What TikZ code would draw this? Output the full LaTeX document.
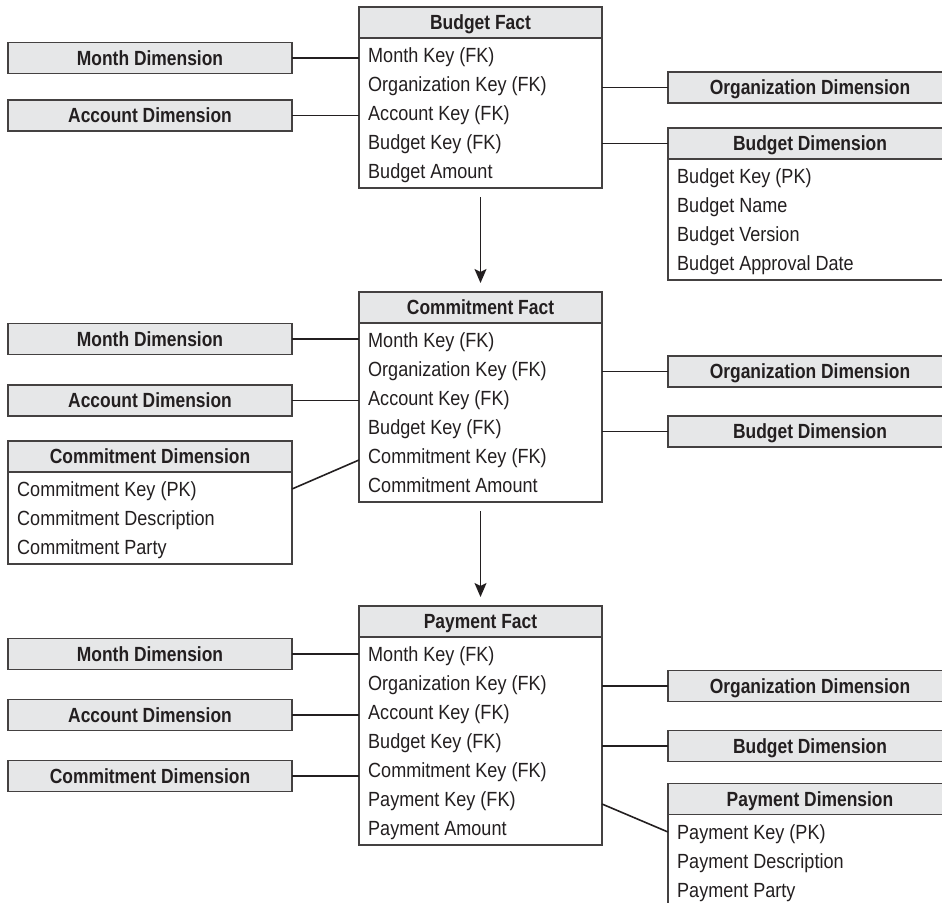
\documentclass[tikz,border=0pt]{standalone}
\usepackage{fontspec}
\setmainfont[FakeStretch=0.88, BoldFeatures={FakeStretch=0.85}]{Liberation Sans}
\usepackage{tikz}
\usetikzlibrary{positioning, arrows.meta, calc}
\definecolor{hdrfill}{RGB}{230,231,232}
\definecolor{ink}{RGB}{35,31,32}
\tikzset{
  hdr/.style={rectangle, draw=ink!85, fill=hdrfill, line width=1.5pt, outer sep=0pt, inner sep=0pt, minimum height=31pt, text height=14.5pt, text depth=0pt, text=ink, font=\fontsize{20.5}{24}\selectfont\bfseries},
  facthdr/.style={hdr, minimum width=243pt},
  dimbox/.style={hdr, minimum width=284pt},
  body/.style={rectangle, draw=ink!85, fill=white, line width=1.5pt, outer sep=0pt, inner sep=0pt, below=0pt of #1},
  row/.style={anchor=west, inner sep=0pt, text height=14.5pt, text depth=0pt, text=ink, font=\fontsize{20.5}{24}\selectfont},
  link/.style={draw=ink, line width=1.6pt},
  flow/.style={link, -{Stealth[length=14pt, width=12pt, inset=3pt]}, shorten <=9pt, shorten >=9pt}
}

\begin{document}
\begin{tikzpicture}[x=1pt, y=-1pt]
    \useasboundingbox (0,0) rectangle (942,902);

    % ==========================================
    % 1. Budget Fact
    % ==========================================
    \node[facthdr] (bf) at (480.5,22.5) {Budget Fact};
    \node[body=bf, minimum width=243pt, minimum height=150pt] (bfb) {};
    \foreach \i/\t in {1/Month Key (FK), 2/Organization Key (FK), 3/Account Key (FK), 4/Budget Key (FK), 5/Budget Amount}
        \node[row] (bf\i) at (368,{26+29*\i}) {\t};

    % Dimensiones a la izquierda
    \node[dimbox] (bmd) at (150,58) {Month Dimension};
    \node[dimbox] (bad) at (150,115.5) {Account Dimension};

    % Dimensiones a la derecha
    \node[dimbox] (bod) at (810,87.5) {Organization Dimension};
    \node[dimbox] (bbd) at (810,143.5) {Budget Dimension};
    \node[body=bbd, minimum width=284pt, minimum height=121pt] (bbdb) {};
    \foreach \i/\t in {1/Budget Key (PK), 2/Budget Name, 3/Budget Version, 4/Budget Approval Date}
        \node[row] (bbd\i) at (677,{147+29*\i}) {\t};

    \draw[link] (bmd.east) -- (bmd.east -| bfb.west);
    \draw[link] (bad.east) -- (bad.east -| bfb.west);
    \draw[link] (bod.west) -- (bod.west -| bfb.east);
    \draw[link] (bbd.west) -- (bbd.west -| bfb.east);

    % ==========================================
    % 2. Commitment Fact
    % ==========================================
    \node[facthdr] (cf) at (480.5,307.5) {Commitment Fact};
    \node[body=cf, minimum width=243pt, minimum height=179pt] (cfb) {};
    \foreach \i/\t in {1/Month Key (FK), 2/Organization Key (FK), 3/Account Key (FK), 4/Budget Key (FK), 5/Commitment Key (FK), 6/Commitment Amount}
        \node[row] (cf\i) at (368,{311+29*\i}) {\t};

    \draw[flow] (bfb.south) -- (cf.north);

    % Dimensiones a la izquierda
    \node[dimbox] (cmd) at (150,339) {Month Dimension};
    \node[dimbox] (cad) at (150,400.5) {Account Dimension};
    \node[dimbox] (ccd) at (150,456.5) {Commitment Dimension};
    \node[body=ccd, minimum width=284pt, minimum height=92pt] (ccdb) {};
    \foreach \i/\t in {1/Commitment Key (PK), 2/Commitment Description, 3/Commitment Party}
        \node[row] (ccd\i) at (17,{460+29*\i}) {\t};

    % Dimensiones a la derecha
    \node[dimbox] (cod) at (810,371.5) {Organization Dimension};
    \node[dimbox] (cbd) at (810,431.5) {Budget Dimension};

    \draw[link] (cmd.east) -- (cmd.east -| cfb.west);
    \draw[link] (cad.east) -- (cad.east -| cfb.west);
    \draw[link] (ccd1 -| ccdb.east) -- ($(cf5 -| cfb.west)+(0,4)$);
    \draw[link] (cod.west) -- (cod.west -| cfb.east);
    \draw[link] (cbd.west) -- (cbd.west -| cfb.east);

    % ==========================================
    % 3. Payment Fact
    % ==========================================
    \node[facthdr] (pf) at (480.5,621.5) {Payment Fact};
    \node[body=pf, minimum width=243pt, minimum height=208pt] (pfb) {};
    \foreach \i/\t in {1/Month Key (FK), 2/Organization Key (FK), 3/Account Key (FK), 4/Budget Key (FK), 5/Commitment Key (FK), 6/Payment Key (FK), 7/Payment Amount}
        \node[row] (pf\i) at (368,{625+29*\i}) {\t};

    \draw[flow] (cfb.south) -- (pf.north);

    % Dimensiones a la izquierda
    \node[dimbox] (pmd) at (150,654) {Month Dimension};
    \node[dimbox] (pad) at (150,715) {Account Dimension};
    \node[dimbox] (pcd) at (150,776) {Commitment Dimension};

    % Dimensiones a la derecha
    \node[dimbox] (pod) at (810,686) {Organization Dimension};
    \node[dimbox] (pbd) at (810,746) {Budget Dimension};
    \node[dimbox] (pyd) at (810,799) {Payment Dimension};
    \node[body=pyd, minimum width=284pt, minimum height=92pt] (pydb) {};
    \foreach \i/\t in {1/Payment Key (PK), 2/Payment Description, 3/Payment Party}
        \node[row] (pyd\i) at (677,{803+29*\i}) {\t};

    \draw[link] (pmd.east) -- (pmd.east -| pfb.west);
    \draw[link] (pad.east) -- (pad.east -| pfb.west);
    \draw[link] (pcd.east) -- (pcd.east -| pfb.west);
    \draw[link] (pod.west) -- (pod.west -| pfb.east);
    \draw[link] (pbd.west) -- (pbd.west -| pfb.east);
    \draw[link] ($(pf6 -| pfb.east)+(0,5)$) -- (pyd1 -| pydb.west);

\end{tikzpicture}
\end{document}
